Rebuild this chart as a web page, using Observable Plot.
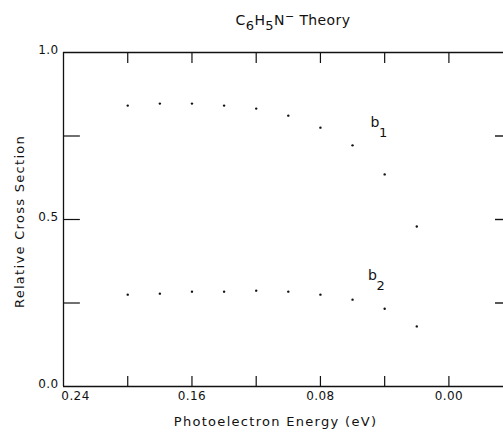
<!DOCTYPE html>
<html>
<head>
<meta charset="utf-8">
<script src="https://cdn.jsdelivr.net/npm/d3@7"></script>
<script src="https://cdn.jsdelivr.net/npm/@observablehq/plot@0.6"></script>
<style>
  html, body { margin: 0; padding: 0; background: #fff; overflow: hidden; }
  #wrap { position: relative; width: 503px; height: 432px; }
  #title { position: absolute; top: 12px; left: 293px; transform: translateX(-50%);
           white-space: nowrap; font-family: "DejaVu Sans", sans-serif; font-size: 14px;
           color: #111; letter-spacing: 0.4px; }
  #title sub { font-size: 13px; vertical-align: -5px; line-height: 0; }
  #title sup { font-size: 11px; vertical-align: 5px; line-height: 0; }
  svg text { letter-spacing: 0.4px; }
  svg .axt text, svg text.axt { letter-spacing: 1.3px; }
</style>
</head>
<body>
<div id="wrap">
  <div id="title">C<sub>6</sub>H<sub>5</sub>N<sup>−</sup> Theory</div>
</div>
<script>
// Photoelectron energy (eV) of the computed points
const energy = [0.20, 0.18, 0.16, 0.14, 0.12, 0.10, 0.08, 0.06, 0.04, 0.02];
// Relative cross sections
const b1 = [0.841, 0.847, 0.847, 0.841, 0.832, 0.811, 0.775, 0.722, 0.635, 0.479];
const b2 = [0.275, 0.278, 0.284, 0.284, 0.287, 0.284, 0.275, 0.260, 0.233, 0.180];
// Series labels (b with subscript) and their data positions
const seriesSub = ["1", "2"];
const labelEnergy = [0.046, 0.0475];
const labelValue = [0.790, 0.332];
// Axis ticks
const xDomain = [0.24, -0.034];
const xTickLabels = [0.16, 0.08, 0.00];
const xFirstTickLabel = [0.24];
const xTickMarks = [0.20, 0.16, 0.12, 0.08, 0.04, 0.00];
const yTickLabels = [0.0, 0.5, 1.0];
const yTickMarks = [0.25, 0.5, 0.75];
const xLabel = "Photoelectron Energy (eV)";
const yLabel = "Relative Cross Section";

const points = energy.flatMap((e, i) => [{e, v: b1[i]}, {e, v: b2[i]}]);
const labels = seriesSub.map((s, i) => ({e: labelEnergy[i], v: labelValue[i], s}));

const ink = "#111";
const [X0, X1] = xDomain;

const chart = Plot.plot({
  width: 503,
  height: 432,
  marginLeft: 63,
  marginRight: 0,
  marginTop: 52,
  marginBottom: 46,
  style: {fontFamily: "DejaVu Sans, sans-serif", fontSize: "12px", color: ink, background: "#fff"},
  x: {domain: xDomain},
  y: {domain: [0, 1]},
  marks: [
    // frame (left, top, bottom)
    Plot.ruleY([0, 1], {x1: X0, x2: X1, stroke: ink, strokeWidth: 1.3}),
    Plot.ruleX([X0], {y1: 0, y2: 1, stroke: ink, strokeWidth: 1.3}),
    // inward ticks
    Plot.ruleX(xTickMarks, {y1: 0, y2: 0.03, stroke: ink, strokeWidth: 1.2}),
    Plot.ruleX(xTickMarks, {y1: 1, y2: 0.967, stroke: ink, strokeWidth: 1.2}),
    Plot.ruleY(yTickMarks, {x1: X0, x2: X0 - 0.0105, stroke: ink, strokeWidth: 1.2}),
    Plot.ruleY(yTickMarks, {x1: X1, x2: X1 + 0.005, stroke: ink, strokeWidth: 1.4}),
    // tick labels
    Plot.axisX({ticks: xTickLabels, tickSize: 0, tickPadding: 5, tickFormat: d3.format(".2f"), label: null}),
    Plot.axisX({ticks: xFirstTickLabel, tickSize: 0, tickPadding: 5, dx: 12, tickFormat: d3.format(".2f"), label: null}),
    Plot.axisY({ticks: yTickLabels, tickSize: 0, tickPadding: 5, dy: -2, tickFormat: d3.format(".1f"), label: null}),
    // axis titles
    Plot.text([xLabel], {frameAnchor: "bottom", dy: 39, dx: -8, fontSize: 13, fill: ink, className: "axt"}),
    Plot.text([yLabel], {frameAnchor: "left", textAnchor: "middle", dx: -44, dy: 2, rotate: -90, fontSize: 13, fill: ink, className: "axt"}),
    // data points
    Plot.dot(points, {x: "e", y: "v", r: 1.2, fill: ink, stroke: null}),
    // series labels
    Plot.text(labels, {x: "e", y: "v", text: () => "b", fontSize: 14, fill: ink}),
    Plot.text(labels, {x: "e", y: "v", text: "s", dx: 4, dy: 10, textAnchor: "start", fontSize: 13, fill: ink})
  ]
});
document.getElementById("wrap").prepend(chart);
chart.style.position = "absolute";
chart.style.left = "0";
chart.style.top = "0";
</script>
</body>
</html>
